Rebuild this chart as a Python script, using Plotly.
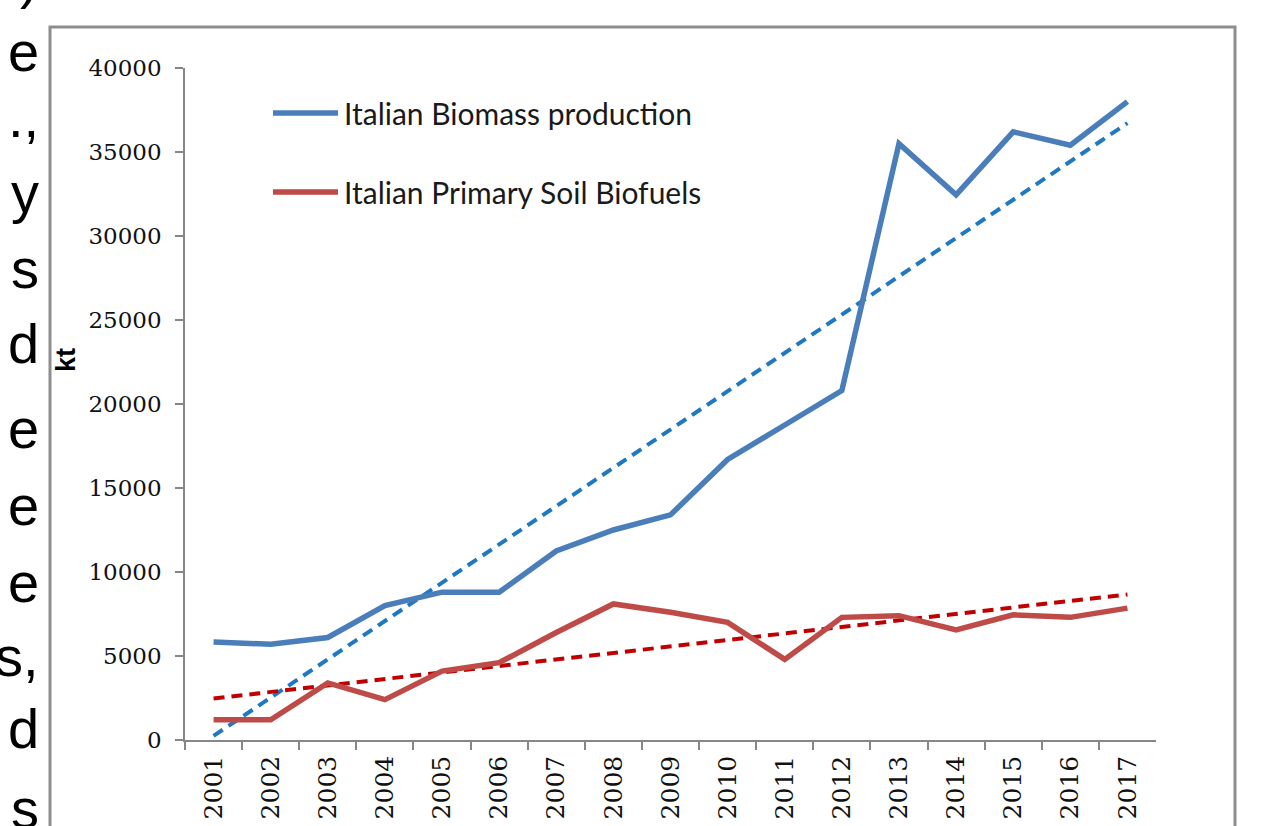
import numpy as np
import plotly.graph_objects as go

W, H = 1261, 826

years = [str(y) for y in range(2001, 2018)]
biomass = [5830, 5700, 6100, 8000, 8800, 8800, 11250, 12500, 13400, 16700,
           18750, 20800, 35500, 32450, 36200, 35400, 38000]
biofuels = [1200, 1200, 3400, 2400, 4100, 4600, 6400, 8100, 7600, 7000,
            4800, 7300, 7400, 6550, 7450, 7300, 7850]
series_names = ["Italian Biomass production", "Italian Primary Soil Biofuels"]
y_ticks = [0, 5000, 10000, 15000, 20000, 25000, 30000, 35000, 40000]
side_letters = [")", "e", ".,", "y", "s", "d", "e", "e", "e", "s,", "d", "s"]

BLUE = "#4A7EBB"
RED = "#BE4B48"
BLUE_T = "#1E78C2"
RED_T = "#C00000"

def px(x):
    return x / W

def py(y):
    return 1 - y / H

idx = np.arange(1, len(years) + 1)
def trend(vals):
    m, b = np.polyfit(idx, np.array(vals, dtype=float), 1)
    return (m * idx + b).tolist()

fig = go.Figure()
fig.add_trace(go.Scatter(x=years, y=trend(biomass), mode="lines",
                         line=dict(color=BLUE_T, width=4, dash="11px,7px"),
                         showlegend=False, hoverinfo="skip"))
fig.add_trace(go.Scatter(x=years, y=trend(biofuels), mode="lines",
                         line=dict(color=RED_T, width=4, dash="11px,7px"),
                         showlegend=False, hoverinfo="skip"))
fig.add_trace(go.Scatter(x=years, y=biomass, mode="lines", name=series_names[0],
                         line=dict(color=BLUE, width=5.5), showlegend=False))
fig.add_trace(go.Scatter(x=years, y=biofuels, mode="lines", name=series_names[1],
                         line=dict(color=RED, width=5.5), showlegend=False))

AX = "#878787"
fig.update_layout(
    width=W, height=H,
    margin=dict(l=0, r=0, t=0, b=0, autoexpand=False),
    paper_bgcolor="white", plot_bgcolor="white",
    xaxis=dict(domain=[px(185), px(1156)], type="category", automargin=False,
               range=[-0.5, len(years) - 0.5],
               tickson="boundaries", ticks="outside", ticklen=8, tickwidth=1.5,
               tickcolor=AX, showline=True, linecolor=AX, linewidth=1.5,
               showgrid=False, zeroline=False, tickangle=-90,
               tickfont=dict(family="DejaVu Serif", size=25, color="#111111"),
               ticklabelstandoff=4),
    yaxis=dict(domain=[py(740), py(68)], range=[0, 40000], automargin=False,
               tickvals=y_ticks, ticktext=[str(v) for v in y_ticks],
               ticks="outside", ticklen=8, tickwidth=1.5, tickcolor=AX,
               showline=True, linecolor=AX, linewidth=1.5,
               showgrid=False, zeroline=False,
               tickfont=dict(family="DejaVu Serif", size=23, color="#111111"),
               ticklabelstandoff=9),
)

shapes = [
    dict(type="rect", xref="paper", yref="paper",
         x0=px(50), x1=px(1235), y0=py(860), y1=py(27),
         line=dict(color="#8E8E8E", width=3), fillcolor="rgba(0,0,0,0)"),
]
annotations = []
for i, (name, col) in enumerate(zip(series_names, [BLUE, RED])):
    yy = [113, 192][i]
    shapes.append(dict(type="line", xref="paper", yref="paper",
                       x0=px(273), x1=px(338), y0=py(yy), y1=py(yy),
                       line=dict(color=col, width=5.5)))
    annotations.append(dict(text=name, xref="paper", yref="paper",
                            x=px(342), y=py(yy), xanchor="left", yanchor="middle",
                            showarrow=False,
                            font=dict(family="Lato", size=30, color="#1a1a1a")))

annotations.append(dict(text="<b>kt</b>", xref="paper", yref="paper",
                        x=px(66), y=py(360), xanchor="center", yanchor="middle",
                        textangle=-90, showarrow=False,
                        font=dict(family="Liberation Sans", size=27, color="black")))

letter_y = [-22, 52, 118, 192, 268, 343, 428, 506, 582, 656, 728, 808]
for t, yy in zip(side_letters, letter_y):
    annotations.append(dict(text=t, xref="paper", yref="paper",
                            x=px(41), y=py(yy), xanchor="right", yanchor="middle",
                            showarrow=False,
                            font=dict(family="Liberation Sans", size=56, color="black")))

fig.update_layout(shapes=shapes, annotations=annotations)
fig.write_html("out.html", config={"displayModeBar": False},
               post_script="document.body.style.margin='0';document.body.style.overflow='hidden';")
